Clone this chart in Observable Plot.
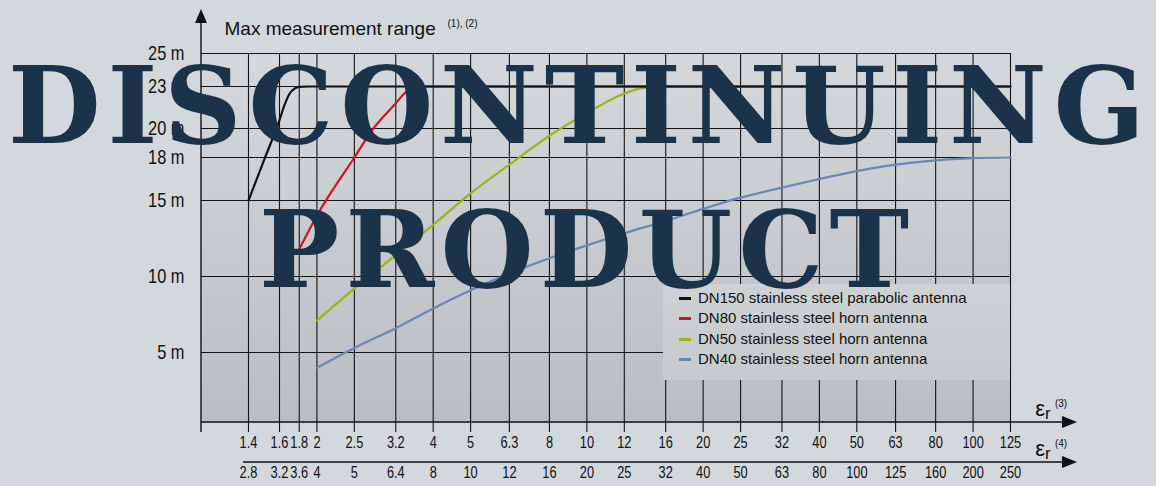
<!DOCTYPE html>
<html><head><meta charset="utf-8">
<script src="https://cdn.jsdelivr.net/npm/d3@7"></script>
<script src="https://cdn.jsdelivr.net/npm/@observablehq/plot@0.6"></script>
<style>
html,body{margin:0;padding:0;background:#d3d8dc;}
#wrap{position:relative;width:1156px;height:486px;overflow:hidden;background:#d3d8dc;}
#wrap svg{display:block;}
#legend{position:absolute;left:663px;top:284px;width:347px;height:96px;background:linear-gradient(#cfd2d5,#c7cacd);font-family:"Liberation Sans",Arial,sans-serif;font-size:15px;color:#111;}
.li{position:absolute;left:0;height:20px;line-height:20px;white-space:nowrap;}
.sw{position:absolute;left:16px;top:9px;width:12px;height:3px;}
.lt{position:absolute;left:35px;top:0;}
#overlay{position:absolute;left:0;top:0;pointer-events:none;}
</style></head><body><div id="wrap"></div>
<script>
// ---- data ----
const epsTicks = [1.4,1.6,1.8,2,2.5,3.2,4,5,6.3,8,10,12.5,16,20,25,32,40,50,63,80,100,125];
const epsLabels3 = ["1.4","1.6","1.8","2","2.5","3.2","4","5","6.3","8","10","12","16","20","25","32","40","50","63","80","100","125"];
const epsLabels4 = ["2.8","3.2","3.6","4","5","6.4","8","10","12","16","20","25","32","40","50","63","80","100","125","160","200","250"];
const rangeTicks = [5,10,15,18,20,23,25];
const rangeLabels = ["5 m","10 m","15 m","18 m","20 m","23 m","25 m"];

const dn150Eps = [1.4,1.5,1.6,1.65,1.7,1.75,1.8,1.9,125];
const dn150Range = [15,17.9,20.6,21.7,22.5,22.85,22.97,23,23];
const dn80Eps = [1.8,2,2.5,2.8,3.2,3.4,3.7,125];
const dn80Range = [11.8,14.0,18.0,20.0,21.8,22.6,23,23];
const dn50Eps = [2,2.5,3.2,4,5,6.3,8,10,12.5,14,16,125];
const dn50Range = [7.1,9.2,11.4,13.4,15.5,17.5,19.5,21.1,22.5,22.9,23,23];
const dn40Eps = [2,2.5,3.2,4,5,6.3,8,10,12.5,16,20,25,32,40,50,63,80,100,125];
const dn40Range = [4.0,5.3,6.6,7.9,9.1,10.2,11.2,12.05,12.85,13.65,14.45,15.2,15.9,16.5,17.05,17.5,17.8,17.95,18];

const seriesNames = ["DN150 stainless steel parabolic antenna","DN80 stainless steel horn antenna","DN50 stainless steel horn antenna","DN40 stainless steel horn antenna"];
const seriesColors = ["#111111","#d0112b","#9db514","#6a87bb"];
const titleText = "Max measurement range";
const titleNote = "(1), (2)";
const overlayWords = ["DISCONTINUING","PRODUCT"];

const toRows = (xs, ys) => xs.map((e,i) => ({eps: e, range: ys[i]}));
const series = [toRows(dn150Eps,dn150Range), toRows(dn80Eps,dn80Range), toRows(dn50Eps,dn50Range), toRows(dn40Eps,dn40Range)];

const regular = "'Liberation Sans',Arial,sans-serif";
const gridColor = "#141414";

const chart = Plot.plot({
  width: 1156, height: 486,
  marginLeft: 201, marginRight: 146, marginTop: 53, marginBottom: 64,
  x: {type: "log", domain: [1, 1.4, 1.6, 125], range: [201, 248, 279, 1010], axis: null},
  y: {type: "linear", domain: [0.4,5,10,15,18,20,23,25], range: [422,352,276,200,157,128,86,53], axis: null},
  style: {background: "transparent", fontFamily: regular, color: "#111"},
  marks: [
    Plot.frame({fill: "url(#plotbg)", stroke: null}),
    Plot.ruleY(rangeTicks, {stroke: gridColor, strokeWidth: 1.1}),
    Plot.ruleX(epsTicks, {stroke: gridColor, strokeWidth: 1.1, insetBottom: -10}),
    ...[3,2,1,0].map(k => Plot.line(series[k], {x: "eps", y: "range", stroke: seriesColors[k], strokeWidth: 2.2, curve: "monotone-x"})),
    Plot.text(epsTicks, {x: d => d, text: (d,i) => epsLabels3[i], frameAnchor: "bottom", dy: 25, fontSize: 16, fill: "#111"}),
    Plot.text(epsTicks, {x: d => d, text: (d,i) => epsLabels4[i], frameAnchor: "bottom", dy: 55, fontSize: 16, fill: "#111"}),
    Plot.text(rangeTicks, {y: d => d, text: (d,i) => rangeLabels[i], frameAnchor: "left", textAnchor: "end", dx: -17, fontSize: 20, fill: "#111"}),
    Plot.text([titleText], {frameAnchor: "top-left", textAnchor: "start", lineAnchor: "bottom", dx: 23, dy: -19, fontSize: 19, fill: "#111"}),
    Plot.text([titleNote], {frameAnchor: "top-left", textAnchor: "start", lineAnchor: "bottom", dx: 246, dy: -27, fontSize: 10, fill: "#111"})
  ]
});

const wrap = document.getElementById("wrap");
wrap.appendChild(chart);

const svg = d3.select(chart);
const defs = svg.insert("defs", ":first-child");
const g = defs.append("linearGradient").attr("id","plotbg").attr("x1",0).attr("y1",0).attr("x2",0).attr("y2",1);
g.append("stop").attr("offset","0%").attr("stop-color","#d4d8db");
g.append("stop").attr("offset","100%").attr("stop-color","#babdc1");

// condense the tick / y labels horizontally (the reference uses a narrow face)
const textGroups = svg.selectAll('g[aria-label="text"]').nodes();
function condense(groupNode, s, anchor) {
  d3.select(groupNode).selectAll("text").each(function() {
    const b = this.getBBox();
    const ax = anchor === "end" ? b.x + b.width : b.x + b.width / 2;
    const t = this.getAttribute("transform") || "";
    this.setAttribute("transform", `${t} translate(${ax},0) scale(${s},1) translate(${-ax},0)`);
  });
}
condense(textGroups[0], 0.8, "middle");
condense(textGroups[1], 0.8, "middle");
condense(textGroups[2], 0.82, "end");

// axis decorations derived from scales
const sx = chart.scale("x"), sy = chart.scale("y");
const x0 = sx.apply(1), xEnd = sx.apply(125);
const yBottom = sy.apply(0.4), yTop = sy.apply(25);
const tipX = xEnd + 67, baseX = xEnd + 52;
const deco = svg.append("g").attr("fill","#111").attr("stroke","#111");
deco.append("line").attr("x1",x0).attr("x2",x0).attr("y1",yTop-33).attr("y2",yBottom+10).attr("stroke-width",1.4);
deco.append("path").attr("d",`M${x0},${yTop-44}L${x0-6},${yTop-30}L${x0+6},${yTop-30}Z`).attr("stroke","none");
const y2 = yBottom + 40;
const x2start = sx.apply(1.4) - 5;
deco.append("line").attr("x1",x0).attr("x2",baseX).attr("y1",yBottom).attr("y2",yBottom).attr("stroke-width",1.6);
deco.append("path").attr("d",`M${tipX},${yBottom}L${baseX},${yBottom-6}L${baseX},${yBottom+6}Z`).attr("stroke","none");
deco.append("line").attr("x1",x2start).attr("x2",baseX).attr("y1",y2).attr("y2",y2).attr("stroke-width",1.6);
deco.append("path").attr("d",`M${tipX},${y2}L${baseX},${y2-6}L${baseX},${y2+6}Z`).attr("stroke","none");

function epsLabel(yBase, note) {
  const t = svg.append("text").attr("x", xEnd + 33).attr("y", yBase).attr("font-family", regular).attr("fill","#111");
  t.append("tspan").attr("font-size", 22).text("ε");
  t.append("tspan").attr("font-size", 17).attr("dy", 3).text("r");
  svg.append("text").attr("x", xEnd + 51).attr("y", yBase - 9).attr("font-family", regular).attr("font-size", 10).attr("fill","#111").text(note);
}
epsLabel(yBottom - 6, "(3)");
epsLabel(y2 - 6, "(4)");

// legend
const legend = document.createElement("div");
legend.id = "legend";
seriesNames.forEach((n,i) => {
  const row = document.createElement("div");
  row.className = "li";
  row.style.top = [4,24,45,65][i] + "px";
  row.innerHTML = `<span class="sw" style="background:${seriesColors[i]}"></span><span class="lt">${n}</span>`;
  legend.appendChild(row);
});
wrap.appendChild(legend);

// overlay
const ov = d3.select(wrap).append("svg").attr("id","overlay").attr("width",1156).attr("height",486);
const ovSpecs = [{x: 8, y: 143, len: 1137}, {x: 259, y: 287, len: 650}];
overlayWords.forEach((w,i) => {
  ov.append("text").attr("x", ovSpecs[i].x).attr("y", ovSpecs[i].y)
    .attr("textLength", ovSpecs[i].len).attr("lengthAdjust","spacing")
    .attr("font-family","'DejaVu Serif',serif").attr("font-weight","bold").attr("font-size",107)
    .attr("fill","#1b334a").text(w);
});
</script></body></html>
